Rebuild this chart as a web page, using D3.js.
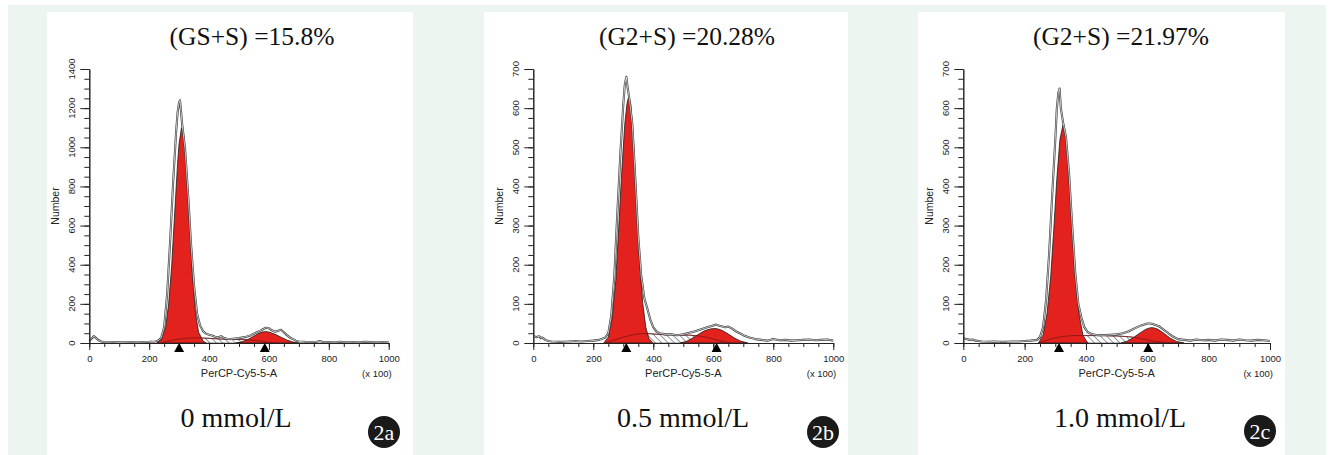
<!DOCTYPE html>
<html><head><meta charset="utf-8">
<script src="https://cdn.jsdelivr.net/npm/d3@7"></script>
<style>body{margin:0;background:#fff}svg{display:block}</style>
</head><body><svg id="c" width="1335" height="455"></svg>
<script>
// ---------- DATA ----------
const panelIds = ["2a", "2b", "2c"];
const titles = ["(GS+S) =15.8%", "(G2+S) =20.28%", "(G2+S) =21.97%"];
const doseLabels = ["0 mmol/L", "0.5 mmol/L", "1.0 mmol/L"];
const yMaxes = [1400, 700, 700];
const yTicksA = [0, 200, 400, 600, 800, 1000, 1200, 1400];
const yTicksBC = [0, 100, 200, 300, 400, 500, 600, 700];
const yMinorStep = [50, 25, 25];
const xTicks = [0, 200, 400, 600, 800, 1000];
const xMinorStep = 50;
const xAxisTitle = "PerCP-Cy5-5-A";
const xAxisUnit = "(x 100)";
const yAxisTitle = "Number";

// Panel 2a (0 mmol/L)
const dataA = [[0,10],[10,25],[15,35],[20,30],[30,15],[40,8],[50,5],[60,4],[80,5],[100,3],[120,4],[140,5],[160,4],[180,5],[200,6],[220,8],[230,12],[240,25],[250,80],[260,250],[270,520],[280,820],[290,1080],[295,1180],[300,1230],[303,1240],[306,1190],[310,1120],[320,990],[330,760],[340,500],[350,290],[360,150],[370,90],[380,60],[390,48],[400,42],[410,38],[420,32],[430,28],[440,35],[450,25],[460,22],[470,20],[480,22],[500,25],[520,30],[540,40],[560,55],[570,62],[580,70],[590,78],[600,75],[610,65],[620,58],[630,62],[640,68],[650,55],[660,40],[670,28],[680,20],[690,12],[700,8],[720,6],[740,5],[760,6],[770,10],[780,5],[800,5],[820,4],[840,6],[860,4],[880,5],[900,4],[920,6],[940,5],[960,4],[980,5],[1000,4]];
const g1A = [[225,0],[240,15],[255,80],[265,200],[275,390],[285,660],[295,920],[300,1020],[308,1100],[315,1060],[325,880],[335,600],[345,340],[355,150],[365,55],[380,10],[390,0]];
const sA = [[240,0],[260,8],[280,15],[300,20],[320,24],[340,26],[360,26],[380,25],[400,24],[420,22],[440,20],[460,19],[480,18],[500,18],[520,17],[540,15],[560,12],[580,8],[600,4],[620,1],[640,0]];
const g2A = [[490,0],[510,6],[530,18],[550,36],[570,52],[580,57],[590,58],[600,56],[620,45],[640,30],[660,15],[680,5],[700,0]];
const markersA = [300, 586];

// Panel 2b (0.5 mmol/L)
const dataB = [[0,18],[10,15],[20,17],[25,12],[30,14],[40,8],[50,5],[60,4],[80,3],[100,3],[120,4],[140,5],[160,4],[180,5],[200,6],[220,8],[240,14],[250,25],[260,70],[270,170],[280,330],[290,480],[300,610],[305,660],[310,680],[315,650],[320,625],[330,560],[340,420],[350,270],[360,170],[370,115],[380,88],[390,60],[400,40],[410,30],[420,25],[440,22],[460,22],[480,20],[500,22],[520,26],[540,30],[560,35],[580,40],[600,45],[610,47],[620,44],[640,40],[650,42],[660,38],[680,28],[700,20],[720,14],[740,10],[760,8],[780,6],[800,10],[820,7],[840,8],[860,6],[880,7],[900,8],[920,9],[940,7],[960,8],[980,9],[1000,6]];
const g1B = [[235,0],[250,15],[262,60],[275,160],[285,300],[295,440],[305,560],[312,610],[318,630],[325,610],[335,500],[345,340],[355,200],[365,100],[375,40],[385,12],[398,0]];
const sB = [[240,0],[260,5],[280,10],[300,15],[320,19],[340,22],[360,24],[380,24],[400,23],[420,22],[440,21],[460,21],[480,21],[500,20],[520,20],[540,19],[560,17],[580,14],[600,10],[620,6],[640,3],[660,0]];
const g2B = [[490,0],[510,4],[530,12],[550,22],[570,31],[590,36],[605,37],[615,36],[630,32],[650,23],[670,13],[690,5],[715,0]];
const markersB = [310, 611];

// Panel 2c (1.0 mmol/L)
const dataC = [[0,12],[10,10],[20,8],[30,9],[40,6],[50,5],[60,4],[80,3],[100,4],[120,3],[140,3],[160,4],[180,4],[200,5],[220,6],[240,8],[250,15],[260,40],[270,110],[280,230],[290,380],[300,520],[305,600],[310,640],[314,650],[318,600],[325,565],[335,525],[345,430],[355,300],[365,180],[375,100],[385,65],[395,40],[405,28],[420,22],[440,20],[460,20],[480,21],[500,22],[520,25],[540,30],[560,38],[580,45],[600,50],[610,50],[620,48],[640,42],[660,30],[680,18],[700,10],[720,8],[740,6],[760,9],[780,7],[800,8],[820,6],[840,9],[860,8],[880,6],[900,9],[920,7],[940,6],[960,8],[980,7],[1000,5]];
const g1C = [[245,0],[260,20],[273,75],[285,170],[295,290],[305,420],[315,520],[325,557],[335,520],[345,420],[355,290],[365,170],[377,75],[390,20],[405,0]];
const sC = [[245,0],[260,4],[280,9],[300,13],[320,16],[340,18],[360,19],[380,19],[400,19],[420,19],[440,19],[460,19],[480,18],[500,18],[520,17],[540,16],[560,14],[580,11],[600,8],[620,5],[640,3],[660,1],[680,0]];
const g2C = [[515,0],[535,5],[555,14],[575,25],[595,35],[610,39],[620,39],[635,35],[655,24],[675,12],[695,4],[720,0]];
const markersC = [312, 603];

// ---------- LAYOUT ----------
const layout = [
  {left:47, right:413, x0:89.3, x1:388.7, titleX:252, doseX:236, badgeX:384, badgeY:432},
  {left:484, right:848, x0:533.3, x1:833.3, titleX:687, doseX:683, badgeX:823, badgeY:432},
  {left:918, right:1285, x0:963.3, x1:1270, titleX:1121, doseX:1120, badgeX:1260, badgeY:431}
];
const series = [
  {data:dataA, g1:g1A, s:sA, g2:g2A, markers:markersA, yTicks:yTicksA},
  {data:dataB, g1:g1B, s:sB, g2:g2B, markers:markersB, yTicks:yTicksBC},
  {data:dataC, g1:g1C, s:sC, g2:g2C, markers:markersC, yTicks:yTicksBC}
];
const Y0 = 343, YTOP = 69;
const SERIF = "'Liberation Serif','Times New Roman',serif";
const SANS = "'Liberation Sans',Arial,sans-serif";

const svg = d3.select("#c");
svg.append("rect").attr("width",1335).attr("height",455).attr("fill","#fff");
svg.append("rect").attr("x",8).attr("y",5).attr("width",1318).attr("height",450).attr("fill","#edf5f1");

const defs = svg.append("defs");
const pat = defs.append("pattern").attr("id","hatch").attr("patternUnits","userSpaceOnUse")
  .attr("width",4.5).attr("height",4.5).attr("patternTransform","rotate(-45)");
pat.append("rect").attr("width",4.5).attr("height",4.5).attr("fill","#fff");
pat.append("line").attr("x1",0).attr("y1",0).attr("x2",0).attr("y2",4.5)
  .attr("stroke","#333").attr("stroke-width",1);

layout.forEach((L, i) => {
  const S = series[i];
  const g = svg.append("g");
  g.append("rect").attr("x",L.left).attr("y",12).attr("width",L.right-L.left).attr("height",443).attr("fill","#fff");

  const x = d3.scaleLinear().domain([0,1000]).range([L.x0, L.x1]);
  const y = d3.scaleLinear().domain([0,yMaxes[i]]).range([Y0, YTOP]);

  const area = d3.area().x(d=>x(d[0])).y0(y(0)).y1(d=>y(d[1]));
  const line = d3.line().x(d=>x(d[0])).y(d=>y(d[1]));

  g.append("path").attr("d", area(S.s)).attr("fill","url(#hatch)").attr("stroke","#333").attr("stroke-width",0.6);
  [S.g1, S.g2].forEach(arr => {
    g.append("path").attr("d", area(arr)).attr("fill","#e3211d").attr("stroke","#1a1a1a").attr("stroke-width",0.8);
  });
  g.append("path").attr("d", line(S.s)).attr("fill","none").attr("stroke","#7a1616").attr("stroke-width",0.8);
  g.append("path").attr("d", line(S.data)).attr("fill","none").attr("stroke","#3a3a3a").attr("stroke-width",2.1).attr("stroke-linejoin","round");
  g.append("path").attr("d", line(S.data)).attr("fill","none").attr("stroke","#fff").attr("stroke-width",0.7).attr("stroke-linejoin","round");

  // X axis
  const xMinor = d3.range(0, 1001, xMinorStep);
  g.append("g").attr("transform",`translate(0,${Y0})`)
    .call(d3.axisBottom(x).tickValues(xMinor).tickSize(4).tickSizeOuter(0).tickFormat(""))
    .call(a=>a.selectAll("line,path").attr("stroke","#222"));
  const xa = g.append("g").attr("transform",`translate(0,${Y0})`)
    .call(d3.axisBottom(x).tickValues(xTicks).tickSize(7).tickSizeOuter(0).tickPadding(5).tickFormat(d3.format("d")));
  xa.selectAll("line,path").attr("stroke","#222");
  xa.selectAll("text").attr("font-family",SANS).attr("font-size",9.5).attr("fill","#222");

  // Y axis
  const yMinor = d3.range(0, yMaxes[i]+1, yMinorStep[i]);
  g.append("g").attr("transform",`translate(${L.x0},0)`)
    .call(d3.axisLeft(y).tickValues(yMinor).tickSize(5).tickSizeOuter(0).tickFormat(""))
    .call(a=>a.selectAll("line,path").attr("stroke","#222"));
  g.append("g").attr("transform",`translate(${L.x0},0)`)
    .call(d3.axisLeft(y).tickValues(S.yTicks).tickSize(9).tickSizeOuter(0).tickFormat(""))
    .call(a=>a.selectAll("line,path").attr("stroke","#222"));
  g.selectAll(null).data(S.yTicks).enter().append("text")
    .attr("transform", d=>`translate(${L.x0-14.5},${y(d)}) rotate(-90)`)
    .attr("text-anchor","middle").attr("font-family",SANS).attr("font-size",9.5).attr("fill","#222")
    .text(d=>d);

  g.append("text").attr("transform",`translate(${L.x0-30.5},${(Y0+YTOP)/2}) rotate(-90)`)
    .attr("text-anchor","middle").attr("font-family",SANS).attr("font-size",10.5).attr("fill","#222").text(yAxisTitle);
  g.append("text").attr("x",(L.x0+L.x1)/2).attr("y",377).attr("text-anchor","middle")
    .attr("font-family",SANS).attr("font-size",11).attr("fill","#222").text(xAxisTitle);
  g.append("text").attr("x",L.x1+3).attr("y",377).attr("text-anchor","end")
    .attr("font-family",SANS).attr("font-size",9.5).attr("fill","#222").text(xAxisUnit);

  g.selectAll(null).data(S.markers).enter().append("path")
    .attr("d", d=>`M${x(d)},${Y0} L${x(d)-5},${Y0+9} L${x(d)+5},${Y0+9} Z`).attr("fill","#000");

  g.append("text").attr("x",L.titleX).attr("y",45).attr("text-anchor","middle")
    .attr("font-family",SERIF).attr("font-size",25.5).attr("fill","#111").text(titles[i]);
  g.append("text").attr("x",L.doseX).attr("y",427).attr("text-anchor","middle")
    .attr("font-family",SERIF).attr("font-size",28).attr("fill","#111").text(doseLabels[i]);
  g.append("circle").attr("cx",L.badgeX).attr("cy",L.badgeY).attr("r",16).attr("fill","#1a1a1a");
  g.append("text").attr("x",L.badgeX).attr("y",L.badgeY+7.5).attr("text-anchor","middle")
    .attr("font-family",SERIF).attr("font-size",22).attr("fill","#fff").text(panelIds[i]);
});
</script></body></html>
